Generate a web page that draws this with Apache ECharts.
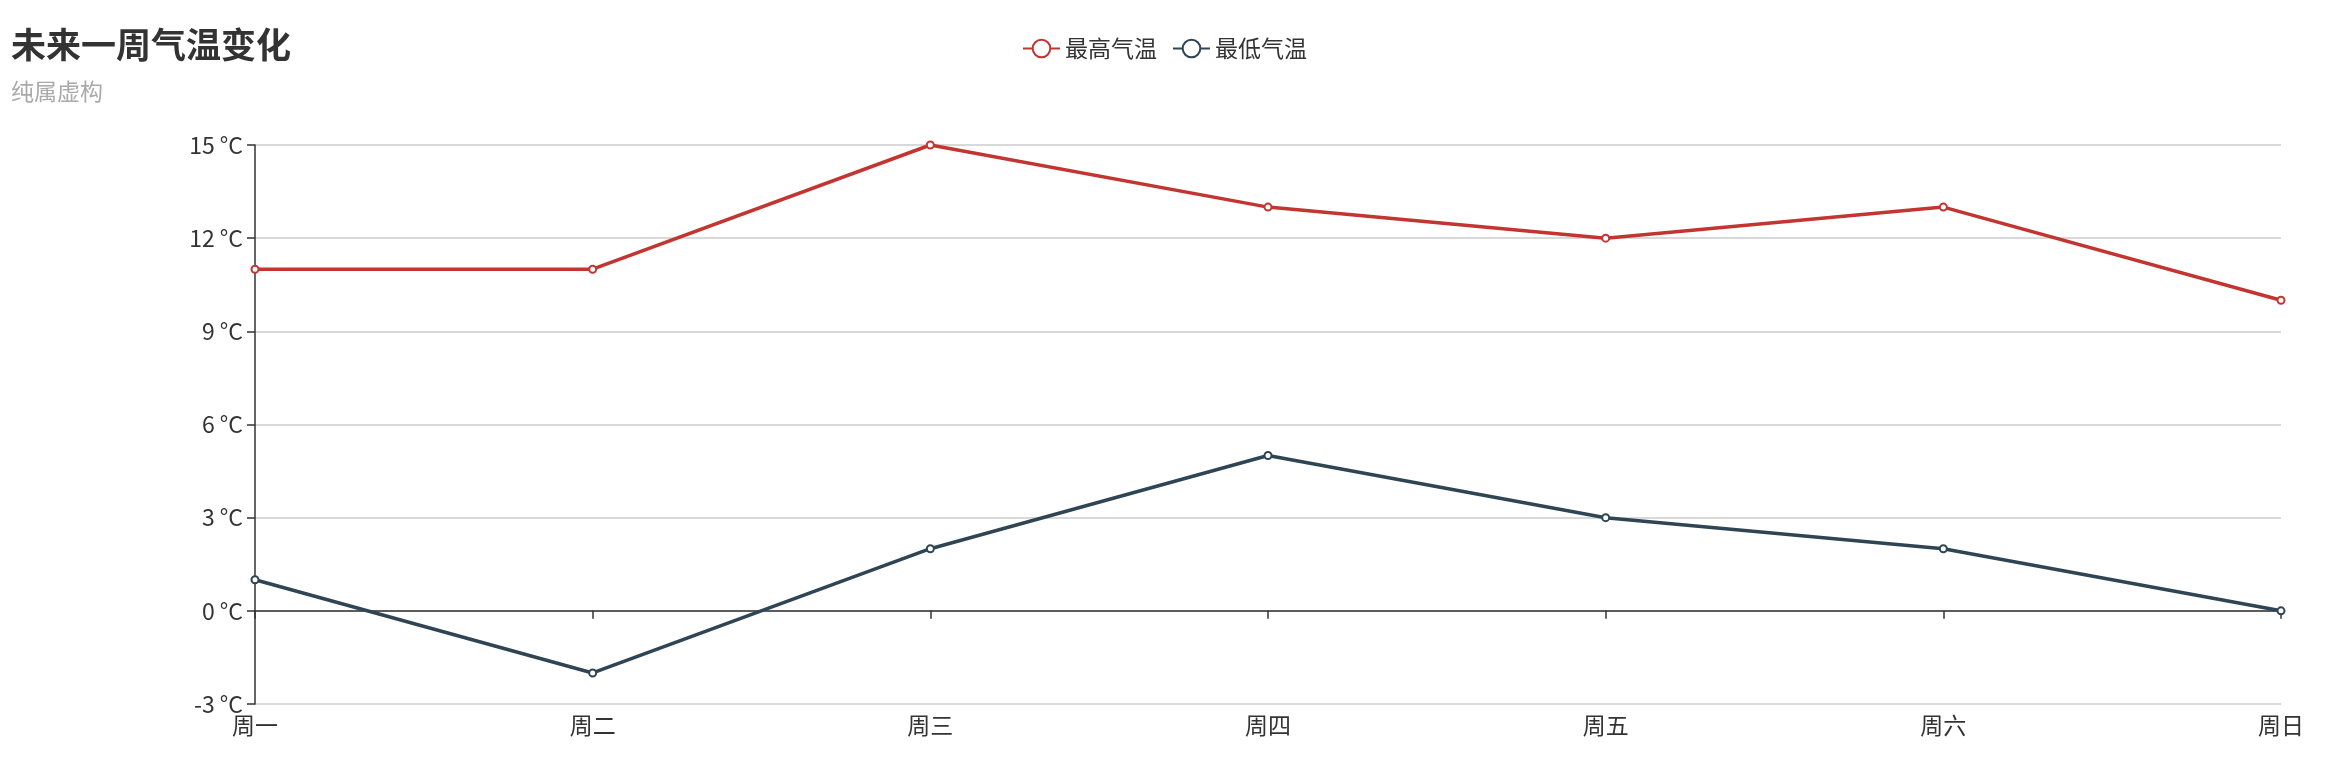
<!DOCTYPE html>
<html><head><meta charset="utf-8">
<script src="https://cdn.jsdelivr.net/npm/echarts@6/dist/echarts.min.js"></script>
<style>html,body{margin:0;padding:0;background:#fff}#c{width:2329px;height:765px}</style>
</head><body><div id="c"></div>
<script>
const categories = ['周一','周二','周三','周四','周五','周六','周日'];
const highTemps = [11, 11, 15, 13, 12, 13, 10];
const lowTemps = [1, -2, 2, 5, 3, 2, 0];
const F = '"Noto Sans CJK SC", sans-serif';
const chart = echarts.init(document.getElementById('c'));
chart.setOption({
  color: ['#c23531', '#2f4554'],
  textStyle: {fontFamily: F},
  title: {text: '未来一周气温变化', subtext: '纯属虚构', left: 6, top: 22,
    textStyle: {fontSize: 35, fontWeight: 'bold', color: '#333', fontFamily: F},
    subtextStyle: {fontSize: 23, color: '#aaa', fontFamily: F}, itemGap: 18},
  legend: {data: ['最高气温','最低气温'], top: 32, left: 'center', itemWidth: 37, itemHeight: 22, itemGap: 15,
    textStyle: {fontSize: 23, color: '#333', fontFamily: F}},
  grid: {left: 255, right: 48, top: 145, bottom: 61},
  xAxis: {type: 'category', boundaryGap: false, data: categories,
    axisLine: {lineStyle: {color: '#333', width: 1.5}},
    axisTick: {length: 8, lineStyle: {width: 1.5}},
    axisLabel: {fontSize: 23, color: '#333', margin: 10}},
  yAxis: {type: 'value', min: -3, max: 15, interval: 3,
    axisLine: {show: true, lineStyle: {color: '#333', width: 1.5}},
    axisTick: {show: true, length: 8, lineStyle: {width: 1.5}},
    axisLabel: {formatter: '{value} °C', fontSize: 23, color: '#333', margin: 12},
    splitLine: {lineStyle: {color: '#ccc', width: 1.5}}},
  series: [
    {name: '最高气温', type: 'line', data: highTemps, symbol: 'emptyCircle', symbolSize: 7, lineStyle: {width: 3.5}, itemStyle: {borderWidth: 1.5}},
    {name: '最低气温', type: 'line', data: lowTemps, symbol: 'emptyCircle', symbolSize: 7, lineStyle: {width: 3.5}, itemStyle: {borderWidth: 1.5}}
  ]
});
</script></body></html>
